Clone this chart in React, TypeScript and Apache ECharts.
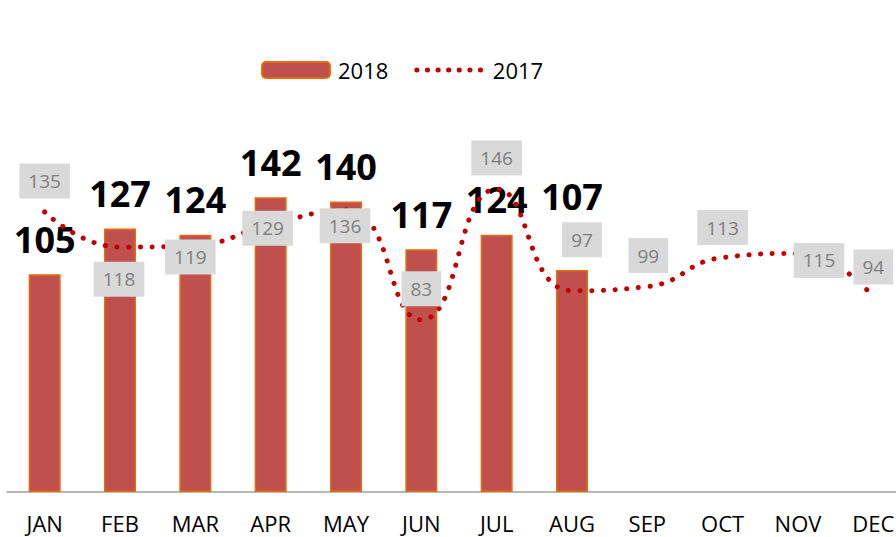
import React, { useEffect, useRef } from "react";
import * as echarts from "echarts";

const months = ["JAN", "FEB", "MAR", "APR", "MAY", "JUN", "JUL", "AUG", "SEP", "OCT", "NOV", "DEC"];
const values2018 = [105, 127, 124, 142, 140, 117, 124, 107];
const values2017 = [135, 118, 119, 129, 136, 83, 146, 97, 99, 113, 115, 94];
// label placement (styling), kept apart from data
const barLabelDistance = [17, 17, 17, 17, 17, 17, 17, 55];
const lineLabelOffset: [number, number][] = [
  [0, -31], [-1, 32], [-5, 12], [-3, 4], [-1, 16], [0, -31],
  [0, -31], [10, -51], [1, -31], [0, -30], [21, 7], [0, -30],
];

export default function App() {
  const ref = useRef<HTMLDivElement>(null);
  useEffect(() => {
    if (!ref.current) return;
    const chart = echarts.init(ref.current, undefined, { renderer: "svg" });
    const font = "'Open Sans', 'Noto Sans', sans-serif";
    chart.setOption({
      animation: false,
      textStyle: { fontFamily: font },
      legend: {
        left: 256,
        top: 54,
        itemWidth: 68,
        itemHeight: 16,
        itemGap: 26,
        textStyle: { fontSize: 22, color: "#000", fontFamily: font, padding: [0, 0, 0, 3] },
        data: [
          { name: "2018" },
          { name: "2017", lineStyle: { width: 5, color: "#c00000", type: [0.1, 10.5], cap: "round" } },
        ],
      },
      grid: { left: 7, width: 904, top: 77, height: 415, outerBoundsMode: "none" },
      xAxis: {
        type: "category",
        data: months,
        axisLine: { lineStyle: { color: "#a0a0a0", width: 1.5 } },
        axisTick: { show: false },
        axisLabel: { fontSize: 22, color: "#000", margin: 20, fontFamily: font, interval: 0 },
      },
      yAxis: {
        type: "value",
        min: 0,
        max: 200,
        show: false,
        splitLine: { show: false },
      },
      series: [
        {
          name: "2018",
          type: "bar",
          barWidth: 32,
          itemStyle: { color: "#c0504d", borderColor: "#e46c0a", borderWidth: 1.5 },
          label: {
            show: true,
            position: "top",
            fontSize: 36,
            lineHeight: 36,
            fontWeight: "bold",
            color: "#000",
            fontFamily: font,
          },
          data: values2018.map((v, i) => ({ value: v, label: { distance: barLabelDistance[i] } })),
          z: 2,
        },
        {
          name: "2017",
          type: "line",
          smooth: 0.5,
          symbol: "circle",
          symbolSize: 1,
          itemStyle: { color: "rgba(0,0,0,0)" },
          lineStyle: { color: "#c00000", width: 5, type: [0.1, 11.6], cap: "round" },
          label: {
            show: true,
            position: "inside",
            fontSize: 19,
            lineHeight: 21,
            color: "#808080",
            backgroundColor: "#d9d9d9",
            padding: [7, 9],
            fontFamily: font,
          },
          data: values2017.map((v, i) => ({ value: v, label: { offset: lineLabelOffset[i] } })),
          z: 3,
        },
      ],
    });
    return () => chart.dispose();
  }, []);
  return (
    <div
      ref={ref}
      style={{ position: "fixed", left: 0, top: 0, width: 896, height: 537, background: "#fff" }}
    />
  );
}
